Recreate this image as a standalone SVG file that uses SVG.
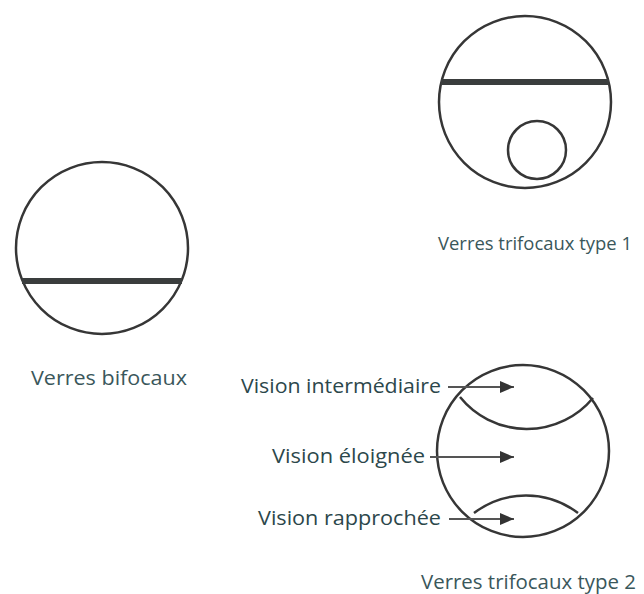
<svg xmlns="http://www.w3.org/2000/svg" width="644" height="594" viewBox="0 0 644 594">
<style>
.lens{fill:none;stroke:#363636;stroke-width:2.5}
.bar{stroke:#3a3d3d;stroke-width:6}
.lbl{font-family:"Open Sans","Liberation Sans",sans-serif;font-size:20px;fill:#3a575b}
.sm{font-size:19px}
.vis{font-family:"Open Sans","Liberation Sans",sans-serif;font-size:20px;fill:#2c474b}
.arr{stroke:#555;stroke-width:1.8;fill:none;marker-end:url(#ah)}
</style>
<defs>
<marker id="ah" viewBox="0 0 14 12" refX="14" refY="6" markerWidth="14" markerHeight="12" markerUnits="userSpaceOnUse" orient="auto">
<path d="M0,0 L14,6 L0,12 Z" fill="#333"/>
</marker>
</defs>
<rect width="644" height="594" fill="#ffffff"/>
<g id="bifocal">
<circle class="lens" cx="102" cy="248" r="86"/>
<line class="bar" x1="22" y1="281" x2="182" y2="281"/>
<text class="lbl" x="31" y="385" textLength="156" lengthAdjust="spacingAndGlyphs">Verres bifocaux</text>
</g>
<g id="trifocal1">
<circle class="lens" cx="525" cy="102" r="86"/>
<line class="bar" x1="441" y1="82" x2="609" y2="82"/>
<circle class="lens" cx="537" cy="150" r="29"/>
<text class="lbl sm" x="438" y="250" textLength="194" lengthAdjust="spacingAndGlyphs">Verres trifocaux type 1</text>
</g>
<g id="trifocal2">
<circle class="lens" cx="523" cy="451" r="86"/>
<path class="lens" d="M460,397 A86,86 0 0 0 593,398"/>
<path class="lens" d="M474,513 A86,86 0 0 1 578,513"/>
<text class="lbl" x="421" y="589" textLength="215" lengthAdjust="spacingAndGlyphs">Verres trifocaux type 2</text>
</g>
<g id="label-intermediaire"><text class="vis" x="441" y="393" text-anchor="end" textLength="200" lengthAdjust="spacingAndGlyphs">Vision intermédiaire</text></g>
<g id="label-eloignee"><text class="vis" x="425" y="463" text-anchor="end" textLength="153" lengthAdjust="spacingAndGlyphs">Vision éloignée</text></g>
<g id="label-rapprochee"><text class="vis" x="441" y="525" text-anchor="end" textLength="183" lengthAdjust="spacingAndGlyphs">Vision rapprochée</text></g>
<g id="connectors">
<line class="arr" x1="448" y1="387" x2="514" y2="387"/>
<line class="arr" x1="430" y1="457" x2="514" y2="457"/>
<line class="arr" x1="449" y1="519" x2="514" y2="519"/>
</g>
</svg>
